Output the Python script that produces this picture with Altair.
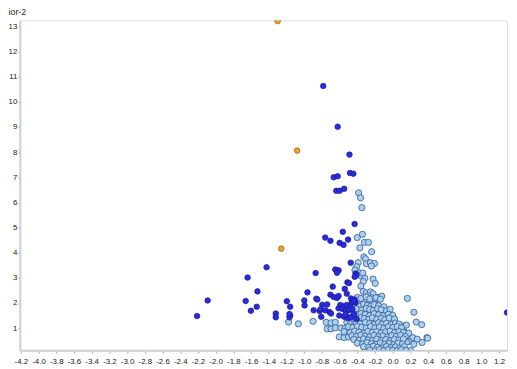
import altair as alt
import pandas as pd

# ---- data ----
orange_x = [-1.30, -1.08, -1.26]
orange_y = [13.21, 8.06, 4.16]

blue_x = [-0.785, -0.622, -0.489, -0.667, -0.622, -0.483, -0.445, -0.638, -0.600, -0.549,
          -0.431, -0.564, -0.763, -0.704, -0.600, -0.556, -0.505, -0.475, -0.649, -0.612,
          -0.630, -0.871, -0.420, -0.410, -0.430, -0.512, -0.494, -0.678, -0.542, -0.963,
          -0.704, -0.667, -0.630, -0.612, -0.519, -0.863, -0.852, -0.999, -0.472, -0.434,
          -0.464, -0.420, -0.438, -0.796, -0.741, -0.996, -1.159, -1.196, -0.593, -0.556,
          -0.519, -0.482, -0.612, -0.568, -0.531, -0.494, -0.457, -0.893, -0.826, -0.815,
          -0.760, -0.715, -1.159, -1.166, -0.808, -0.697, -0.604, -0.549, -0.512, -0.475,
          -0.531, -0.438, -0.408, -1.639, -1.425, -1.528, -1.661, -1.602, -1.536, -1.321,
          -1.321, -1.166, -2.09, -2.21, 1.29]
blue_y = [10.63, 9.01, 7.90, 7.00, 7.04, 7.17, 7.14, 6.46, 6.46, 6.54,
          5.14, 4.83, 4.60, 4.47, 4.39, 4.31, 4.52, 3.60, 3.33, 3.30,
          3.20, 3.19, 3.17, 3.11, 3.04, 2.82, 2.79, 2.65, 2.56, 2.42,
          2.33, 2.24, 2.20, 2.28, 2.37, 2.17, 2.14, 2.10, 2.18, 2.14,
          2.01, 2.01, 2.07, 1.93, 1.94, 1.90, 1.85, 2.07, 1.92, 1.88,
          1.92, 1.85, 1.79, 1.76, 1.69, 1.72, 1.75, 1.71, 1.68, 1.75,
          1.71, 1.64, 1.50, 1.43, 1.45, 1.58, 1.50, 1.45, 1.40, 1.43,
          1.55, 1.55, 1.36, 3.01, 3.42, 2.46, 2.08, 1.69, 1.85, 1.58,
          1.43, 1.56, 2.10, 1.48, 1.62]

light_x = [
    -0.386, -0.364, -0.349, -0.401, -0.342, -0.320, -0.275, -0.372, -0.239, -0.327,
    -0.308, -0.390, -0.298, -0.253, -0.206, -0.242, -0.408, -0.427, -0.372, -0.364,
    -0.339, -0.316, -0.334, -0.223, -0.198, -0.360, -0.334, -0.298, -0.253, -0.223,
    -0.168, -0.124, -0.279, -0.235, 0.165, -0.345, -0.309, -0.272, -0.235, -0.198,
    -0.168, -0.124, 0.238, -0.390, -0.353, -0.309, -0.272, -0.228, -0.190, -0.076,
    -0.519, -0.475, -0.427, -0.383, -0.334, -0.290, -0.242, -0.198, -0.143, -0.752,
    -0.697, -0.649, -0.900, -1.066, -1.177, 0.265, 0.327, 0.116, 0.154, -0.741,
    -0.697, -0.649, -0.604, -0.549, -0.500, -0.586, -0.538, -0.494, -0.457, -0.420,
    -0.375, -0.339, 0.080, 0.135, 0.172, 0.227, 0.276, 0.331, 0.386, 0.180,
    0.238, 0.394, 0.157, 0.201,
    # dense core
    -0.40, -0.36, -0.30, -0.26, -0.19, -0.14,
    -0.42, -0.38, -0.33, -0.29, -0.25, -0.21, -0.16, -0.10,
    -0.41, -0.35, -0.30, -0.26, -0.22, -0.17, -0.13, -0.07, -0.03,
    -0.44, -0.40, -0.36, -0.31, -0.26, -0.21, -0.16, -0.11, -0.05, 0.00,
    -0.46, -0.41, -0.36, -0.32, -0.27, -0.23, -0.18, -0.13, -0.09, -0.04, 0.02,
    -0.41, -0.37, -0.31, -0.26, -0.21, -0.16, -0.12, -0.07, -0.02, 0.03, 0.07,
    -0.50, -0.45, -0.40, -0.35, -0.30, -0.25, -0.20, -0.15, -0.10, -0.05, 0.00, 0.05, 0.10,
    -0.55, -0.48, -0.43, -0.38, -0.33, -0.28, -0.23, -0.18, -0.13, -0.08, -0.03, 0.02, 0.07, 0.12, 0.18,
    -0.46, -0.41, -0.36, -0.31, -0.26, -0.21, -0.16, -0.11, -0.06, -0.01, 0.04, 0.09, 0.14,
    -0.44, -0.38, -0.33, -0.28, -0.23, -0.18, -0.13, -0.08, -0.03, 0.02, 0.07, 0.12,
    -0.40, -0.34, -0.29, -0.24, -0.19, -0.14, -0.09, -0.04, 0.01, 0.06, 0.11,
    -0.33, -0.27, -0.22, -0.17, -0.12, -0.07, -0.02, 0.03, 0.08, 0.13,
    -0.26, -0.20, -0.15, -0.10, -0.05, 0.00, 0.05, 0.10, 0.15,
]
light_y = [
    6.38, 6.18, 5.79, 4.60, 4.73, 4.41, 4.41, 4.19, 4.04, 3.83,
    3.76, 3.60, 3.56, 3.60, 3.57, 3.47, 3.44, 3.31, 3.19, 3.08,
    3.19, 2.98, 2.85, 2.95, 2.78, 2.67, 2.46, 2.40, 2.44, 2.37,
    2.22, 2.27, 2.28, 2.20, 2.18, 2.11, 2.05, 1.98, 2.05, 1.96,
    1.81, 1.75, 1.63, 1.72, 1.63, 1.66, 1.59, 1.59, 1.53, 1.40,
    1.23, 1.17, 1.21, 1.27, 1.21, 1.27, 1.33, 1.27, 1.27, 1.23,
    1.21, 1.23, 1.27, 1.17, 1.24, 1.24, 1.14, 1.09, 1.12, 0.97,
    0.97, 1.01, 0.65, 0.62, 0.65, 1.01, 0.99, 1.04, 0.95, 1.01,
    1.04, 0.99, 0.95, 0.84, 0.69, 0.62, 0.56, 0.43, 0.62, 0.47,
    0.36, 0.60, 0.44, 0.11,
    # dense core
    2.22, 2.18, 2.24, 2.16, 2.21, 2.15,
    1.92, 1.88, 1.95, 1.90, 1.86, 1.93, 1.89, 1.85,
    1.76, 1.72, 1.78, 1.74, 1.70, 1.77, 1.73, 1.69, 1.75,
    1.56, 1.52, 1.58, 1.54, 1.50, 1.57, 1.53, 1.49, 1.55, 1.51,
    1.40, 1.37, 1.42, 1.38, 1.35, 1.41, 1.36, 1.39, 1.34, 1.40, 1.36,
    1.20, 1.17, 1.22, 1.18, 1.15, 1.21, 1.16, 1.19, 1.14, 1.20, 1.16,
    1.05, 1.02, 1.07, 1.03, 1.00, 1.06, 1.01, 1.04, 0.99, 1.05, 1.02, 1.06, 1.01,
    0.86, 0.82, 0.88, 0.84, 0.80, 0.87, 0.83, 0.86, 0.81, 0.85, 0.88, 0.82, 0.86, 0.83, 0.80,
    0.70, 0.67, 0.72, 0.68, 0.65, 0.71, 0.66, 0.69, 0.64, 0.70, 0.67, 0.72, 0.66,
    0.55, 0.52, 0.57, 0.53, 0.50, 0.56, 0.51, 0.54, 0.49, 0.55, 0.52, 0.57,
    0.40, 0.37, 0.42, 0.38, 0.35, 0.41, 0.36, 0.39, 0.34, 0.40, 0.37,
    0.26, 0.23, 0.28, 0.24, 0.21, 0.27, 0.22, 0.25, 0.20, 0.26,
    0.13, 0.10, 0.15, 0.11, 0.14, 0.12, 0.10, 0.14, 0.11,
]

x_ticks = [-4.2, -4.0, -3.8, -3.6, -3.4, -3.2, -3.0, -2.8, -2.6, -2.4, -2.2, -2.0,
           -1.8, -1.6, -1.4, -1.2, -1.0, -0.8, -0.6, -0.4, -0.2, 0.0, 0.2, 0.4,
           0.6, 0.8, 1.0, 1.2]
y_ticks = [1, 2, 3, 4, 5, 6, 7, 8, 9, 10, 11, 12, 13]

X_DOMAIN = [-4.211, 1.29]
Y_DOMAIN = [0.12, 13.24]

df_light = pd.DataFrame({"x": light_x, "y": light_y})
df_blue = pd.DataFrame({"x": blue_x, "y": blue_y})
df_orange = pd.DataFrame({"x": orange_x, "y": orange_y})

xenc = alt.X("x:Q", scale=alt.Scale(domain=X_DOMAIN, nice=False, zero=False),
             axis=alt.Axis(values=x_ticks, title=None, grid=False,
                           labelExpr="replace(format(datum.value, '.1f'), '\u2212', '-')",
                           labelOverlap=False, labelFlush=False, labelBound=False,
                           tickSize=3, labelPadding=4))
yenc = alt.Y("y:Q", scale=alt.Scale(domain=Y_DOMAIN, nice=False, zero=False),
             axis=alt.Axis(values=y_ticks, format="d", title="ior-2", grid=False,
                           labelOverlap=False, labelFlush=False, labelBound=False,
                           tickSize=2, labelPadding=1,
                           titleAngle=0, titleAlign="left", titleBaseline="middle",
                           titleX=-12, titleY=-9))

light = alt.Chart(df_light).mark_point(
    filled=True, shape="circle", size=40, fill="#a8d0f0", stroke="#34588e",
    strokeWidth=0.8, opacity=1, clip=True
).encode(x=xenc, y=yenc)

blue = alt.Chart(df_blue).mark_point(
    filled=True, shape="circle", size=32, fill="#2a2ae0", stroke="#1a1a8a",
    strokeWidth=0.7, opacity=1, clip=True
).encode(x=xenc, y=yenc)

orange = alt.Chart(df_orange).mark_point(
    filled=True, shape="circle", size=32, fill="#f0a030", stroke="#8a5a10",
    strokeWidth=0.7, opacity=1, clip=True
).encode(x=xenc, y=yenc)

chart = alt.layer(light, blue, orange).properties(
    width=494, height=334.5,
    autosize=alt.AutoSizeParams(type="none"),
    padding={"left": 12, "top": 10, "right": 2, "bottom": 17},
).configure_view(stroke=None).configure(background="white").configure_axis(
    labelFontSize=8, labelColor="#222", labelFont="Liberation Sans",
    tickColor="#aaa", domainColor="#cfcfcf", domainWidth=2,
    titleFontSize=9, titleFontWeight="normal", titleColor="#222",
    titleFont="Liberation Sans", labelOverlap=False,
)

chart.save("out.html", embed_options={"renderer": "svg", "actions": False})
